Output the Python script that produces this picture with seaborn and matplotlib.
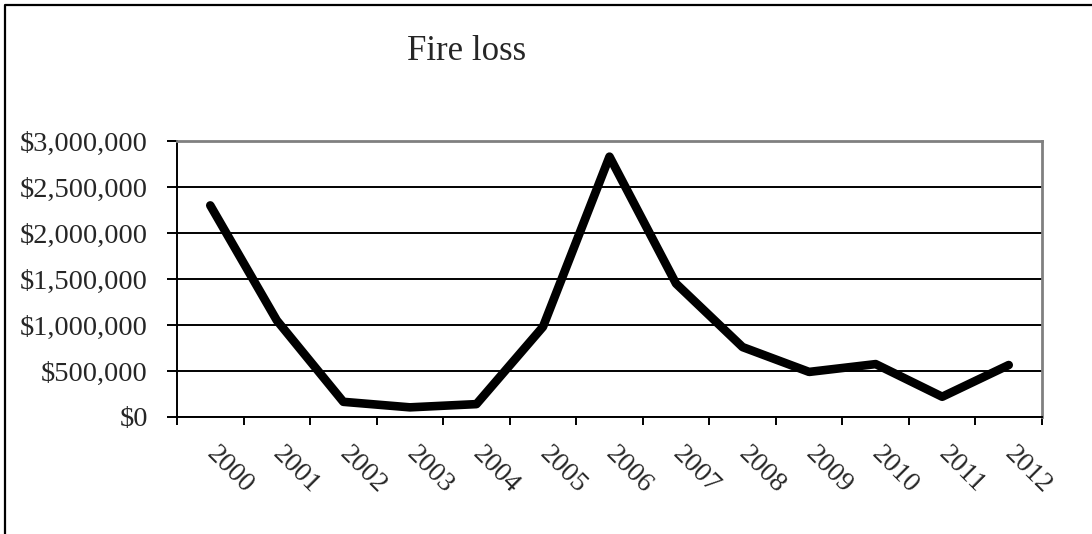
import matplotlib
matplotlib.use("Agg")
import matplotlib.pyplot as plt
from matplotlib.lines import Line2D
from matplotlib.ticker import FuncFormatter, FixedLocator
import numpy as np
import pandas as pd
import seaborn as sns

years = ["2000", "2001", "2002", "2003", "2004", "2005", "2006",
         "2007", "2008", "2009", "2010", "2011", "2012"]
fire_loss = [2300000, 1050000, 165000, 105000, 140000, 980000, 2830000,
             1450000, 760000, 490000, 575000, 220000, 565000]
y_ticks = [0, 500000, 1000000, 1500000, 2000000, 2500000, 3000000]
title = "Fire loss"

df = pd.DataFrame({"pos": np.arange(len(years)), "year": years, "loss": fire_loss})

sns.set_style("white")
plt.rcParams["font.family"] = ["Liberation Serif", "DejaVu Serif"]

fig = plt.figure(figsize=(10.92, 5.34), dpi=100)
ax = fig.add_axes([177 / 1092, 1 - 417 / 534, (1042 - 177) / 1092, (417 - 141) / 534])

sns.lineplot(data=df, x="pos", y="loss", ax=ax, color="black", linewidth=6.2,
             solid_capstyle="round", solid_joinstyle="round")

ax.set_xlim(-0.5, len(years) - 0.5)
ax.set_ylim(0, 3000000)

# horizontal gridlines
ax.yaxis.set_major_locator(FixedLocator(y_ticks))
ax.grid(axis="y", color="black", linewidth=1.4)
ax.grid(axis="x", visible=False)
ax.set_axisbelow(True)

ax.yaxis.set_major_formatter(FuncFormatter(lambda v, p: f"${v:,.0f}"))
ax.tick_params(axis="y", which="major", direction="out", length=7, width=1.4,
               color="black", pad=14, labelsize=20.5, left=True)

# category boundaries carry the tick marks, centers carry the labels
ax.set_xticks(np.arange(-0.5, len(years), 1.0))
ax.set_xticklabels([])
ax.tick_params(axis="x", which="major", direction="out", length=6, width=1.4,
               color="black", bottom=True)
ax.set_xticks(np.arange(len(years)), minor=True)
ax.set_xticklabels(years, minor=True, rotation=-45, ha="left", va="center",
                   rotation_mode="anchor")
ax.tick_params(axis="x", which="minor", length=0, pad=24, labelsize=20)

ax.set_xlabel("")
ax.set_ylabel("")

for side in ("left", "bottom"):
    ax.spines[side].set_color("black")
    ax.spines[side].set_linewidth(1.4)
for side in ("top", "right"):
    ax.spines[side].set_color("#808080")
    ax.spines[side].set_linewidth(2.0)
    ax.spines[side].set_visible(True)

fig.text(467 / 1092, 1 - 51 / 534, title, ha="center", va="center", fontsize=25)

# outer chart frame
fig.add_artist(Line2D([5 / 1092, 5 / 1092, 1.0], [0.0, 1 - 5 / 534, 1 - 5 / 534],
                      transform=fig.transFigure, color="black", linewidth=1.6))

fig.savefig("out.png", dpi=100)
